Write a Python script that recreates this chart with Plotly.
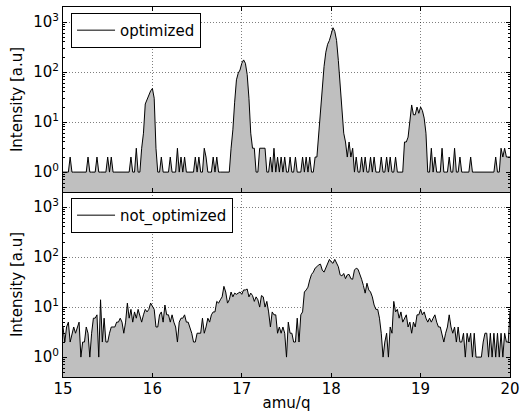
import math
import plotly.graph_objects as go
from plotly.subplots import make_subplots

# ---------------- data ----------------
x_start = 15.0
x_step = 0.02
n_points = 251
amu = [round(x_start + x_step * i, 2) for i in range(n_points)]

optimized = [
    1, 1, 1, 1, 2, 1, 1, 1, 1, 1,
    1, 1, 1, 1, 2, 1, 1, 1, 1, 2,
    1, 1, 1, 1, 1, 2, 1, 2, 1, 1,
    1, 1, 1, 1, 1, 1, 1, 1, 2, 1,
    1, 3, 1, 1, 3, 6, 23, 29, 35, 42,
    47, 30, 3, 1, 1, 2, 1, 1, 1, 1,
    2, 1, 1, 1, 3, 1, 2, 1, 2, 1,
    1, 1, 1, 1, 2, 1, 2, 1, 1, 3,
    2, 1, 1, 1, 2, 1, 2, 1, 1, 1,
    1, 1, 1, 1, 3, 7, 25, 70, 95, 110,
    150, 175, 150, 90, 30, 6, 3, 3, 1, 1,
    3, 3, 3, 3, 1, 1, 2, 1, 3, 1,
    2, 1, 2, 1, 2, 1, 1, 2, 1, 1,
    2, 1, 1, 1, 2, 1, 2, 1, 2, 1,
    1, 2, 2, 6, 15, 45, 130, 250, 360, 430,
    560, 770, 650, 430, 170, 50, 17, 6, 4, 2,
    4, 2, 3, 1, 2, 1, 1, 2, 1, 2,
    1, 1, 2, 1, 2, 1, 1, 1, 2, 1,
    1, 2, 1, 2, 1, 1, 2, 1, 1, 1,
    1, 4, 4, 5, 12, 22, 14, 14, 20, 15,
    20, 17, 12, 6, 1, 1, 3, 1, 2, 1,
    1, 1, 3, 1, 1, 1, 2, 1, 1, 3,
    1, 1, 2, 1, 1, 1, 1, 1, 2, 1,
    1, 1, 1, 1, 1, 1, 1, 1, 1, 1,
    1, 1, 2, 1, 1, 3, 2, 3, 2, 2,
    2,
]

not_optimized = [
    4, 2, 4, 5, 2, 3, 4, 3, 4, 5,
    1, 2, 2, 4, 3, 1, 3, 6, 6, 7,
    1, 14, 2, 6, 2, 2, 3, 4, 4, 4,
    5, 5, 6, 5, 3, 5, 12, 6, 9, 5,
    8, 6, 9, 7, 5, 7, 9, 8, 9, 12,
    10, 9, 4, 4, 7, 8, 5, 11, 7, 7,
    5, 7, 5, 4, 2, 5, 6, 6, 7, 5,
    5, 4, 3, 2, 2, 3, 3, 3, 6, 3,
    4, 6, 5, 7, 8, 8, 13, 12, 14, 16,
    26, 20, 12, 14, 20, 16, 19, 18, 19, 20,
    18, 22, 22, 23, 16, 19, 17, 13, 16, 14,
    10, 17, 16, 10, 13, 8, 4, 8, 7, 7,
    3, 4, 3, 4, 3, 1, 5, 3, 3, 2,
    2, 6, 2, 7, 8, 20, 22, 25, 35, 45,
    50, 60, 64, 70, 72, 55, 50, 60, 77, 90,
    80, 75, 90, 75, 64, 44, 42, 47, 37, 44,
    45, 37, 36, 55, 60, 57, 47, 36, 27, 19,
    30, 22, 20, 16, 11, 9, 9, 6, 3, 1,
    2, 3, 1, 4, 3, 13, 8, 9, 6, 8,
    5, 6, 7, 4, 5, 3, 5, 4, 7, 7,
    9, 7, 8, 6, 5, 6, 5, 6, 7, 5,
    4, 4, 3, 2, 3, 4, 7, 4, 3, 4,
    2, 4, 2, 2, 3, 1, 3, 2, 3, 1,
    3, 1, 1, 1, 1, 2, 3, 3, 1, 3,
    1, 3, 1, 3, 1, 3, 1, 3, 2, 2,
    8,
]

series_names = ["optimized", "not_optimized"]
x_tick_vals = [15, 16, 17, 18, 19, 20]
x_tick_text = ["15", "16", "17", "18", "19", "20"]
y_tick_vals = [1, 10, 100, 1000]
y_tick_text = ["10<sup>0</sup>", "10<sup>1</sup>", "10<sup>2</sup>", "10<sup>3</sup>"]
y_limits = [0.4, 2000]
x_limits = [15, 20]
x_title = "amu/q"
y_title = "Intensity [a.u]"

# ---------------- figure ----------------
FONT = "DejaVu Sans"
FILL = "#bfbfbf"
fig = make_subplots(rows=2, cols=1, shared_xaxes=True, vertical_spacing=0.0)

for row, (name, vals) in enumerate(zip(series_names, [optimized, not_optimized]), start=1):
    fig.add_trace(go.Scatter(x=amu, y=vals, mode="lines", fill="tozeroy",
                             fillcolor=FILL, line=dict(width=0, color=FILL),
                             showlegend=False, hoverinfo="skip"), row=row, col=1)
    fig.add_trace(go.Scatter(x=amu, y=vals, mode="lines", name=name,
                             line=dict(width=1, color="black"),
                             legend="legend" if row == 1 else "legend2"),
                  row=row, col=1)

minor_vals = [m * 10 ** e for e in range(-1, 4) for m in range(2, 10)]

axis_common = dict(showline=True, linecolor="black", linewidth=1,
                   ticks="inside", ticklen=4, tickcolor="black", tickwidth=1,
                   showgrid=True, gridcolor="rgba(0,0,0,0.5)", griddash="1px,2px", gridwidth=1,
                   zeroline=False, automargin=False,
                   tickfont=dict(family=FONT, size=15, color="black"))

for r in (1, 2):
    fig.update_xaxes(range=x_limits, tickvals=x_tick_vals, ticktext=x_tick_text,
                     showticklabels=(r == 2), mirror=("ticks" if r == 1 else False),
                     row=r, col=1, **axis_common)
    fig.update_yaxes(type="log", range=[math.log10(y_limits[0]), math.log10(y_limits[1])],
                     tickvals=y_tick_vals, ticktext=y_tick_text, mirror="ticks",
                     minor=dict(tickmode="array", tickvals=minor_vals, ticks="inside",
                                ticklen=2, tickcolor="black", showgrid=False),
                     title=dict(text=y_title, font=dict(family=FONT, size=15, color="black"),
                                standoff=6),
                     row=r, col=1, **axis_common)

fig.update_xaxes(ticklabelstandoff=-2,
                 title=dict(text=x_title, font=dict(family=FONT, size=15, color="black"),
                            standoff=0), row=2, col=1)

legend_style = dict(bgcolor="white", bordercolor="black", borderwidth=1,
                    font=dict(family=FONT, size=15, color="black"),
                    xanchor="left", yanchor="top", itemwidth=38,
                    tracegroupgap=0)

fig.update_layout(
    width=520, height=413,
    margin=dict(l=63, r=10, t=7, b=36, autoexpand=False),
    paper_bgcolor="white", plot_bgcolor="white",
    font=dict(family=FONT, size=15, color="black"),
    legend=dict(x=0.018, y=0.984, **legend_style),
    legend2=dict(x=0.018, y=0.484, **legend_style),
)

fig.write_html("out.html", config={"displayModeBar": False},
               post_script="document.body.style.margin='0';document.body.style.padding='0';")
